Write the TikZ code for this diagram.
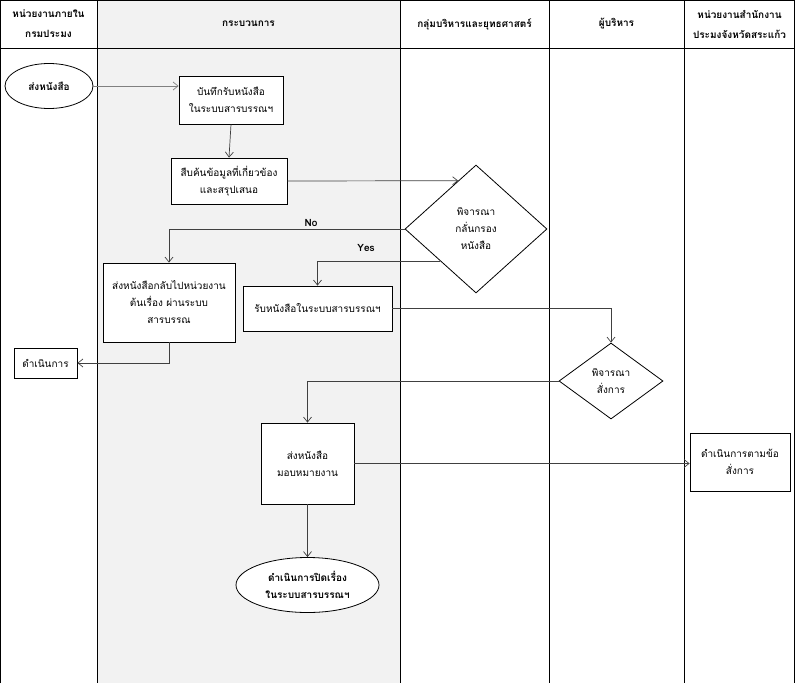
\documentclass[tikz,border=0pt]{standalone}
\usepackage{fontspec}
\setmainfont[Script=Thai]{Loma}
\usetikzlibrary{shapes.geometric,arrows.meta,calc}
\definecolor{lanegray}{HTML}{F2F2F2}
\definecolor{linegray}{HTML}{404040}
\begin{document}
\begin{tikzpicture}[x=1pt,y=-1pt,
  txt/.style={font=\fontsize{10}{17}\selectfont, align=center},
  hdr/.style={font=\fontsize{10}{20}\selectfont\bfseries, align=center},
  procbox/.style={txt, draw=black, line width=0.8pt, fill=white, inner sep=0pt},
  decision/.style={txt, diamond, draw=black, line width=0.8pt, fill=white, inner sep=0pt},
  term/.style={txt, ellipse, draw=black, line width=0.8pt, fill=white, inner sep=0pt, font=\fontsize{10}{17}\selectfont\bfseries},
  conn/.style={draw=linegray, line width=0.7pt, -{Straight Barb[length=5pt,width=8pt]}},
  lbl/.style={font=\fontsize{10}{12}\selectfont\bfseries, inner sep=1pt}
]
\useasboundingbox (0,0) rectangle (795,683);
% lanes
\fill[lanegray] (97,0) rectangle (400,683);
\draw[black, line width=0.8pt] (0.5,683) -- (0.5,0.5) -- (794.5,0.5) -- (794.5,683);
\draw[black, line width=0.8pt] (0,48) -- (795,48);
\foreach \xx in {97,400,549,684} \draw[black, line width=0.8pt] (\xx,0) -- (\xx,683);
% headers
\node[hdr] (h1) at (48.5,24) {หน่วยงานภายใน\\กรมประมง};
\node[hdr] (h2) at (248.5,24) {กระบวนการ};
\node[hdr] (h3) at (474.5,24) {กลุ่มบริหารและยุทธศาสตร์};
\node[hdr] (h4) at (616.5,24) {ผู้บริหาร};
\node[hdr] (h5) at (739.5,24) {หน่วยงานสำนักงาน\\ประมงจังหวัดสระแก้ว};
% nodes
\node[term, minimum width=88pt, minimum height=45pt] (start) at (49,86) {ส่งหนังสือ};
\node[procbox, minimum width=104pt, minimum height=48pt] (b1) at (231,100) {บันทึกรับหนังสือ\\ในระบบสารบรรณฯ};
\node[procbox, minimum width=116pt, minimum height=46pt] (b2) at (229,181) {สืบค้นข้อมูลที่เกี่ยวข้อง\\และสรุปเสนอ};
\node[decision, minimum width=142pt, minimum height=128pt] (d1) at (476,229) {พิจารณา\\กลั่นกรอง\\หนังสือ};
\node[procbox, minimum width=132pt, minimum height=79pt] (b3) at (169,302.5) {ส่งหนังสือกลับไปหน่วยงาน\\ต้นเรื่อง ผ่านระบบ\\สารบรรณ};
\node[procbox, minimum width=149pt, minimum height=45pt] (b4) at (317.5,308.5) {รับหนังสือในระบบสารบรรณฯ};
\node[procbox, minimum width=63pt, minimum height=30pt] (act) at (45.5,363) {ดำเนินการ};
\node[decision, minimum width=104pt, minimum height=76pt] (d2) at (611,381) {พิจารณา\\สั่งการ};
\node[procbox, minimum width=93pt, minimum height=81pt] (b5) at (307.5,463.5) {ส่งหนังสือ\\มอบหมายงาน};
\node[procbox, minimum width=100pt, minimum height=58pt] (b6) at (740,462) {ดำเนินการตามข้อ\\สั่งการ};
\node[term, minimum width=143pt, minimum height=55pt] (stop) at (307.5,585) {ดำเนินการปิดเรื่อง\\ในระบบสารบรรณฯ};
% connectors
\draw[conn, draw=gray] (start.east) -- (start.east -| b1.west);
\draw[conn] (b1.south) -- (b2.north);
\coordinate (d1in) at ($(d1.north)!0.25!(d1.west)$);
\draw[conn] (b2.east) -- (d1in);
\draw[conn] (d1.west) -| (b3.north);
\coordinate (d1yes) at ($(d1.west)!0.5!(d1.south)$);
\draw[conn] (d1yes) -| (b4.north);
\draw[conn] (b3.south) |- (act.east);
\draw[conn] (b4.east) -| (d2.north);
\draw[conn] (d2.west) -| (b5.north);
\draw[conn] (b5.east) -- (b5.east -| b6.west);
\draw[conn] (b5.south) -- (stop.north);
% labels
\node[lbl] (lno) at (311,223) {No};
\node[lbl] (lyes) at (366,248) {Yes};
\end{tikzpicture}
\end{document}
